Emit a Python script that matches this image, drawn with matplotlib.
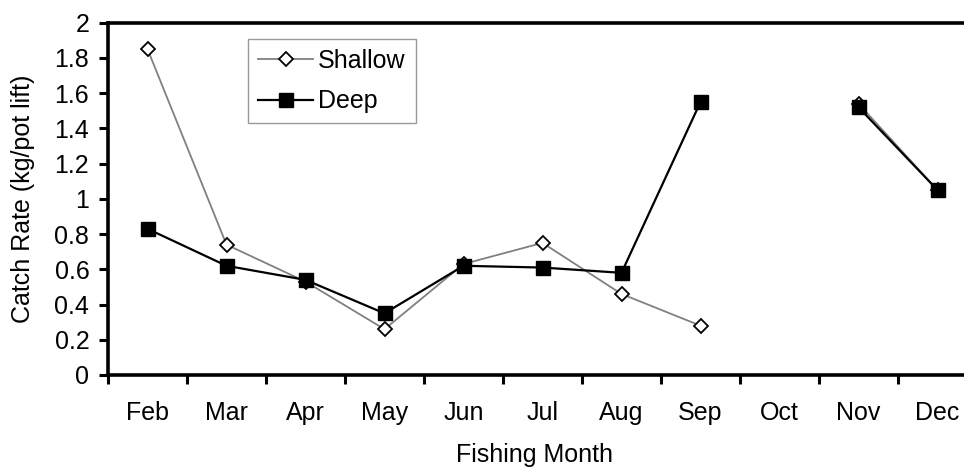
import numpy as np
import matplotlib
matplotlib.use("Agg")
import matplotlib.pyplot as plt
from matplotlib.ticker import FixedLocator, NullFormatter, FixedFormatter

months = ["Feb", "Mar", "Apr", "May", "Jun", "Jul", "Aug", "Sep", "Oct", "Nov", "Dec"]
shallow = [1.85, 0.74, 0.53, 0.26, 0.63, 0.75, 0.46, 0.28, np.nan, 1.54, 1.05]
deep = [0.83, 0.62, 0.54, 0.35, 0.62, 0.61, 0.58, 1.55, np.nan, 1.52, 1.05]
y_ticks = [0, 0.2, 0.4, 0.6, 0.8, 1, 1.2, 1.4, 1.6, 1.8, 2]
y_tick_labels = ["0", "0.2", "0.4", "0.6", "0.8", "1", "1.2", "1.4", "1.6", "1.8", "2"]

plt.rcParams["font.family"] = ["Liberation Sans", "DejaVu Sans"]
FS = 18

W, H = 964, 468
fig = plt.figure(figsize=(W / 100, H / 100), dpi=100)
# axes box in pixels: left edge 108, bottom 375, top 22.7; category width 79 px
left, bottom, top = 108, 375, 22.7
cat_w = 79
ax = fig.add_axes([left / W, (H - bottom) / H, 11 * cat_w / W, (bottom - top) / H])

x = np.arange(len(months))
ax.plot(x, shallow, color="#808080", lw=1.3, marker="D", ms=7,
        mfc="white", mec="black", mew=1.3, label="Shallow", zorder=3)
ax.plot(x, deep, color="black", lw=1.6, marker="s", ms=9.5,
        mfc="black", mec="black", label="Deep", zorder=4)

ax.set_xlim(-0.5, len(months) - 0.5)
ax.set_ylim(0, 2)

# tick marks sit between categories, labels at category centres
ax.xaxis.set_major_locator(FixedLocator(np.arange(-0.5, len(months), 1.0)))
ax.xaxis.set_major_formatter(NullFormatter())
ax.xaxis.set_minor_locator(FixedLocator(x))
ax.xaxis.set_minor_formatter(FixedFormatter(months))
ax.tick_params(axis="x", which="major", direction="out", length=6.5, width=2.2)
ax.tick_params(axis="x", which="minor", length=0, pad=19, labelsize=FS)

ax.set_yticks(y_ticks)
ax.set_yticklabels(y_tick_labels)
ax.tick_params(axis="y", direction="out", length=6.5, width=2.2, pad=7, labelsize=FS)

for side in ("left", "bottom", "top"):
    ax.spines[side].set_linewidth(2.6)
    ax.spines[side].set_color("black")
ax.spines["right"].set_visible(False)

fig.text(23 / W, 1 - 199 / H, "Catch Rate (kg/pot lift)", rotation=90,
         ha="center", va="center", fontsize=FS)
fig.text(535 / W, 1 - 462 / H, "Fishing Month", ha="center", va="baseline", fontsize=FS)

leg = ax.legend(loc="upper left", bbox_to_anchor=(248 / W, 1 - 38.5 / H),
                bbox_transform=fig.transFigure, fontsize=FS, frameon=True,
                fancybox=False, edgecolor="#808080", handlelength=2.2,
                handletextpad=0.2, borderpad=0.4, borderaxespad=0,
                labelspacing=0.67, handleheight=0.7)
leg.get_frame().set_linewidth(1.0)

fig.savefig("out.png", dpi=100)
